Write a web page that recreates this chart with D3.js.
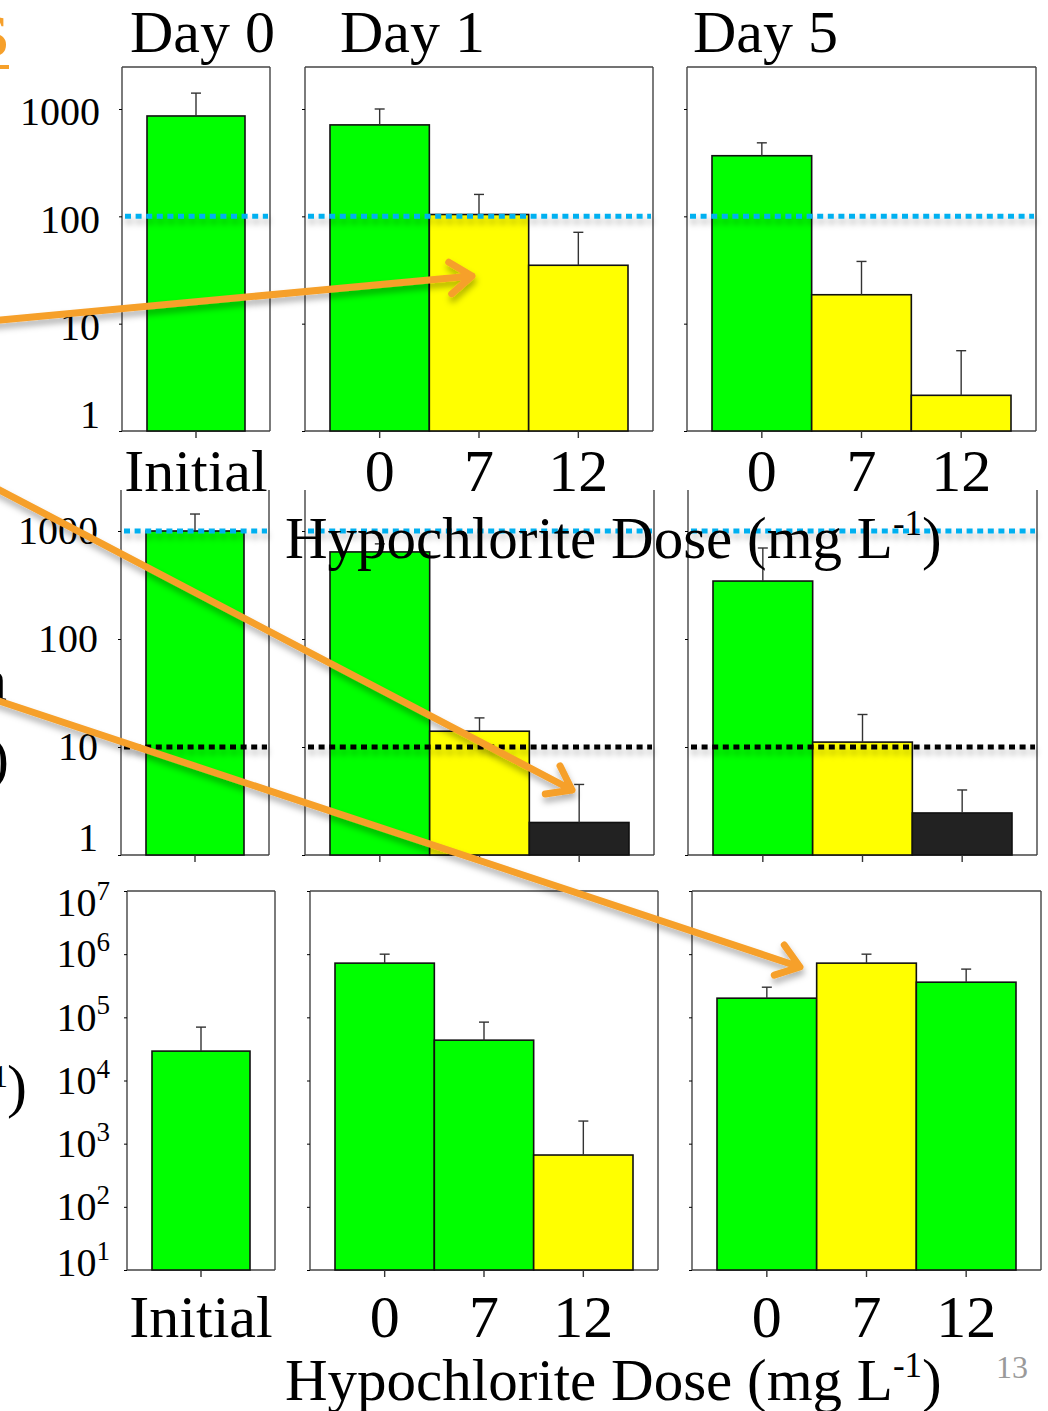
<!DOCTYPE html>
<html lang="en">
<head>
<meta charset="UTF-8">
<title>Hypochlorite dose panels</title>
<script src="https://d3js.org/d3.v7.min.js"></script>
<style>
  body { margin: 0; background: #fff; }
</style>
</head>
<body>
<script>
// ---- data ----
const days = ["Day 0", "Day 1", "Day 5"];
const doses = [["Initial"], ["0", "7", "12"], ["0", "7", "12"]];

// top row (log 1 .. 1000)
const row1Values = [[861], [711, 104, 35], [367, 18.6, 2.15]];
const row1Errors = [[1406], [1000, 160, 71], [484, 38, 5.6]];
const row1Rating = [["G"], ["G", "Y", "Y"], ["G", "Y", "Y"]];
const row1Limits = [100];

// middle row (log 1 .. 1000)
const row2Values = [[1000], [640, 14, 2.0], [344, 11.1, 2.45]];
const row2Errors = [[1436], [760, 18.6, 4.5], [696, 20, 4.0]];
const row2Rating = [["G"], ["G", "Y", "K"], ["G", "Y", "K"]];
const row2Limits = [1000, 10];

// bottom row (log 10 .. 10^7)
const row3Values = [[29200], [721000, 43500, 661], [201000, 721000, 360000]];
const row3Errors = [[70000], [1000000, 84000, 2280], [300000, 1000000, 580000]];
const row3Rating = [["G"], ["G", "G", "Y"], ["G", "Y", "G"]];
const row3Limits = [];

const ticksLinear = [1, 10, 100, 1000];
const ticksExp = [1e1, 1e2, 1e3, 1e4, 1e5, 1e6, 1e7];

// ---- layout / style ----
const width = 1048, height = 1411;
const fills = { G: "#00ff00", Y: "#ffff00", K: "#222222" };
const orange = "#f6a02b";
const serif = "Liberation Serif, DejaVu Serif, serif";

const rows = [
  { values: row1Values, errors: row1Errors, rating: row1Rating, limits: row1Limits,
    limitColors: ["#00b0f0"], ticks: ticksLinear, exp: false,
    top: 67, bottom: 431, lo: 1, hi: 1000, hiY: 109, boxed: true,
    panels: [[122, 270], [305, 653], [687, 1036]], labelGap: 22, labelDy: 3, minShift: -16,
    showDoses: true, dosePad: 10 },
  { values: row2Values, errors: row2Errors, rating: row2Rating, limits: row2Limits,
    limitColors: ["#00b0f0", "#000"], ticks: ticksLinear, exp: false,
    top: 490, bottom: 855, lo: 1, hi: 1000, hiY: 531, boxed: false,
    panels: [[121, 269], [305, 654], [688, 1037]], labelGap: 23, labelDy: 0, minShift: -17,
    showDoses: false, dosePad: 10 },
  { values: row3Values, errors: row3Errors, rating: row3Rating, limits: row3Limits,
    limitColors: [], ticks: ticksExp, exp: true,
    top: 891, bottom: 1270, lo: 10, hi: 1e7, hiY: 891, boxed: true,
    panels: [[127, 275], [310, 658], [692, 1041]], labelGap: 17, labelDy: 0, minShift: -7,
    showDoses: true, dosePad: 17 }
];

const svg = d3.select("body").append("svg")
    .attr("width", width)
    .attr("height", height)
    .attr("font-family", serif)
    .style("display", "block");

const defs = svg.append("defs");
defs.append("filter")
    .attr("id", "shadow")
    .attr("filterUnits", "userSpaceOnUse")
    .attr("x", -50).attr("y", -50).attr("width", width + 100).attr("height", height + 100)
  .append("feDropShadow")
    .attr("dx", 1).attr("dy", 5).attr("stdDeviation", 3)
    .attr("flood-color", "#000").attr("flood-opacity", 0.3);

// ---- panels ----
rows.forEach(row => {
    const y = d3.scaleLog().domain([row.lo, row.hi]).range([row.bottom, row.hiY]);

    row.values.forEach((vals, p) => {
        const [x0, x1] = row.panels[p];
        const x = d3.scaleBand().domain(doses[p]).range([x0 + 25, x1 - 25]).padding(0);
        const g = svg.append("g");

        // frame
        const frame = [[x0, row.top, x0, row.bottom], [x0, row.bottom, x1, row.bottom], [x1, row.top, x1, row.bottom]];
        if (row.boxed) frame.push([x0, row.top, x1, row.top]);
        g.selectAll("line.frame").data(frame).join("line")
            .attr("class", "frame")
            .attr("x1", d => d[0]).attr("y1", d => d[1])
            .attr("x2", d => d[2]).attr("y2", d => d[3])
            .attr("stroke", "#444").attr("stroke-width", 1.4);

        const bars = vals.map((v, i) => ({ dose: doses[p][i], v, e: row.errors[p][i], c: row.rating[p][i] }));

        // bars
        g.selectAll("rect.bar").data(bars).join("rect")
            .attr("class", "bar")
            .attr("x", d => x(d.dose))
            .attr("y", d => y(d.v))
            .attr("width", x.bandwidth())
            .attr("height", d => row.bottom - y(d.v))
            .attr("fill", d => fills[d.c])
            .attr("stroke", "#111")
            .attr("stroke-width", 1.6);

        // error bars
        const eb = g.selectAll("g.err").data(bars).join("g").attr("class", "err")
            .attr("stroke", "#333").attr("stroke-width", 1.4);
        eb.append("line")
            .attr("x1", d => x(d.dose) + x.bandwidth() / 2).attr("x2", d => x(d.dose) + x.bandwidth() / 2)
            .attr("y1", d => y(d.v)).attr("y2", d => y(d.e));
        eb.append("line")
            .attr("x1", d => x(d.dose) + x.bandwidth() / 2 - 5).attr("x2", d => x(d.dose) + x.bandwidth() / 2 + 5)
            .attr("y1", d => y(d.e)).attr("y2", d => y(d.e));

        // limit lines (dotted)
        g.selectAll("line.limit").data(row.limits).join("line")
            .attr("class", "limit")
            .attr("x1", x0 + 3).attr("x2", x1 - 2)
            .attr("y1", d => y(d)).attr("y2", d => y(d))
            .attr("stroke", (d, i) => row.limitColors[i])
            .attr("stroke-width", 5)
            .attr("stroke-dasharray", "6,4.6")
            .attr("filter", "url(#shadow)");

        // y axis
        const yAxis = d3.axisLeft(y)
            .tickValues(row.ticks)
            .tickSize(3)
            .tickPadding(row.labelGap - 3)
            .tickFormat(p === 0 ? d => d : "");
        const ya = g.append("g")
            .attr("transform", `translate(${x0},0)`)
            .call(yAxis)
            .attr("font-family", serif)
            .attr("font-size", 40);
        ya.select(".domain").remove();
        ya.selectAll(".tick text")
            .attr("fill", "#000")
            .attr("y", d => {
                const py = y(d);
                const cy = Math.max(row.top + 12, Math.min(row.bottom + row.minShift, py + row.labelDy));
                return cy - py;
            });
        if (row.exp && p === 0) {
            ya.selectAll(".tick text").each(function (d) {
                const t = d3.select(this);
                t.text("10");
                t.append("tspan").attr("dy", "-0.6em").attr("font-size", 27).text(Math.round(Math.log10(d)));
            });
        }

        // x axis
        const xAxis = d3.axisBottom(x)
            .tickSize(7)
            .tickPadding(row.dosePad)
            .tickFormat(row.showDoses ? d => d : "");
        const xa = g.append("g")
            .attr("transform", `translate(0,${row.bottom})`)
            .call(xAxis)
            .attr("font-family", serif)
            .attr("font-size", 60);
        xa.select(".domain").remove();
        xa.selectAll(".tick line").attr("stroke", "#333").attr("stroke-width", 1.4);
        xa.selectAll(".tick text").attr("fill", "#000");
    });
});

// ---- titles ----
const titleX = [130, 340, 693];
svg.selectAll("text.day").data(days).join("text")
    .attr("class", "day")
    .attr("x", (d, i) => titleX[i])
    .attr("y", 52)
    .attr("font-size", 60)
    .text(d => d);

function doseTitle(yBase) {
    const t = svg.append("text")
        .attr("x", 285)
        .attr("y", yBase)
        .attr("font-size", 59);
    t.append("tspan").text("Hypochlorite Dose (mg L");
    t.append("tspan").attr("dy", -23).attr("font-size", 35).text("-1");
    t.append("tspan").attr("dy", 23).text(")");
}
doseTitle(558);
doseTitle(1400);

svg.append("text")
    .attr("x", 1012).attr("y", 1378)
    .attr("text-anchor", "middle")
    .attr("font-size", 32)
    .attr("fill", "#9a9a9a")
    .text("13");

// clipped fragments at the left edge
svg.append("text").attr("x", 9).attr("y", 55).attr("text-anchor", "end")
    .attr("font-size", 80).attr("fill", orange).text("s");
svg.append("line").attr("x1", 0).attr("x2", 9).attr("y1", 67).attr("y2", 67)
    .attr("stroke", orange).attr("stroke-width", 4);
svg.append("text").attr("x", 7).attr("y", 700).attr("text-anchor", "end")
    .attr("font-size", 60).text("n");
svg.append("text").attr("x", 9).attr("y", 778).attr("text-anchor", "end")
    .attr("font-size", 60).text(")");
svg.append("text").attr("x", 8).attr("y", 1087).attr("text-anchor", "end")
    .attr("font-size", 32).text("1");
svg.append("text").attr("x", 27).attr("y", 1106).attr("text-anchor", "end")
    .attr("font-size", 60).text(")");

// ---- orange annotation arrows ----
const arrows = [
    { from: [-10, 321], to: [472, 276] },
    { from: [-10, 485], to: [572, 790] },
    { from: [-10, 698], to: [800, 967] }
];
const ag = svg.append("g")
    .attr("stroke", orange)
    .attr("stroke-width", 7)
    .attr("stroke-linecap", "round")
    .attr("stroke-linejoin", "round")
    .attr("fill", "none")
    .attr("filter", "url(#shadow)");
arrows.forEach(a => {
    const ang = Math.atan2(a.to[1] - a.from[1], a.to[0] - a.from[0]);
    const len = 27, spread = Math.PI / 5;
    const h1 = [a.to[0] - len * Math.cos(ang - spread), a.to[1] - len * Math.sin(ang - spread)];
    const h2 = [a.to[0] - len * Math.cos(ang + spread), a.to[1] - len * Math.sin(ang + spread)];
    ag.append("path").attr("d", `M${a.from}L${a.to}M${h1}L${a.to}L${h2}`);
});
</script>
</body>
</html>
